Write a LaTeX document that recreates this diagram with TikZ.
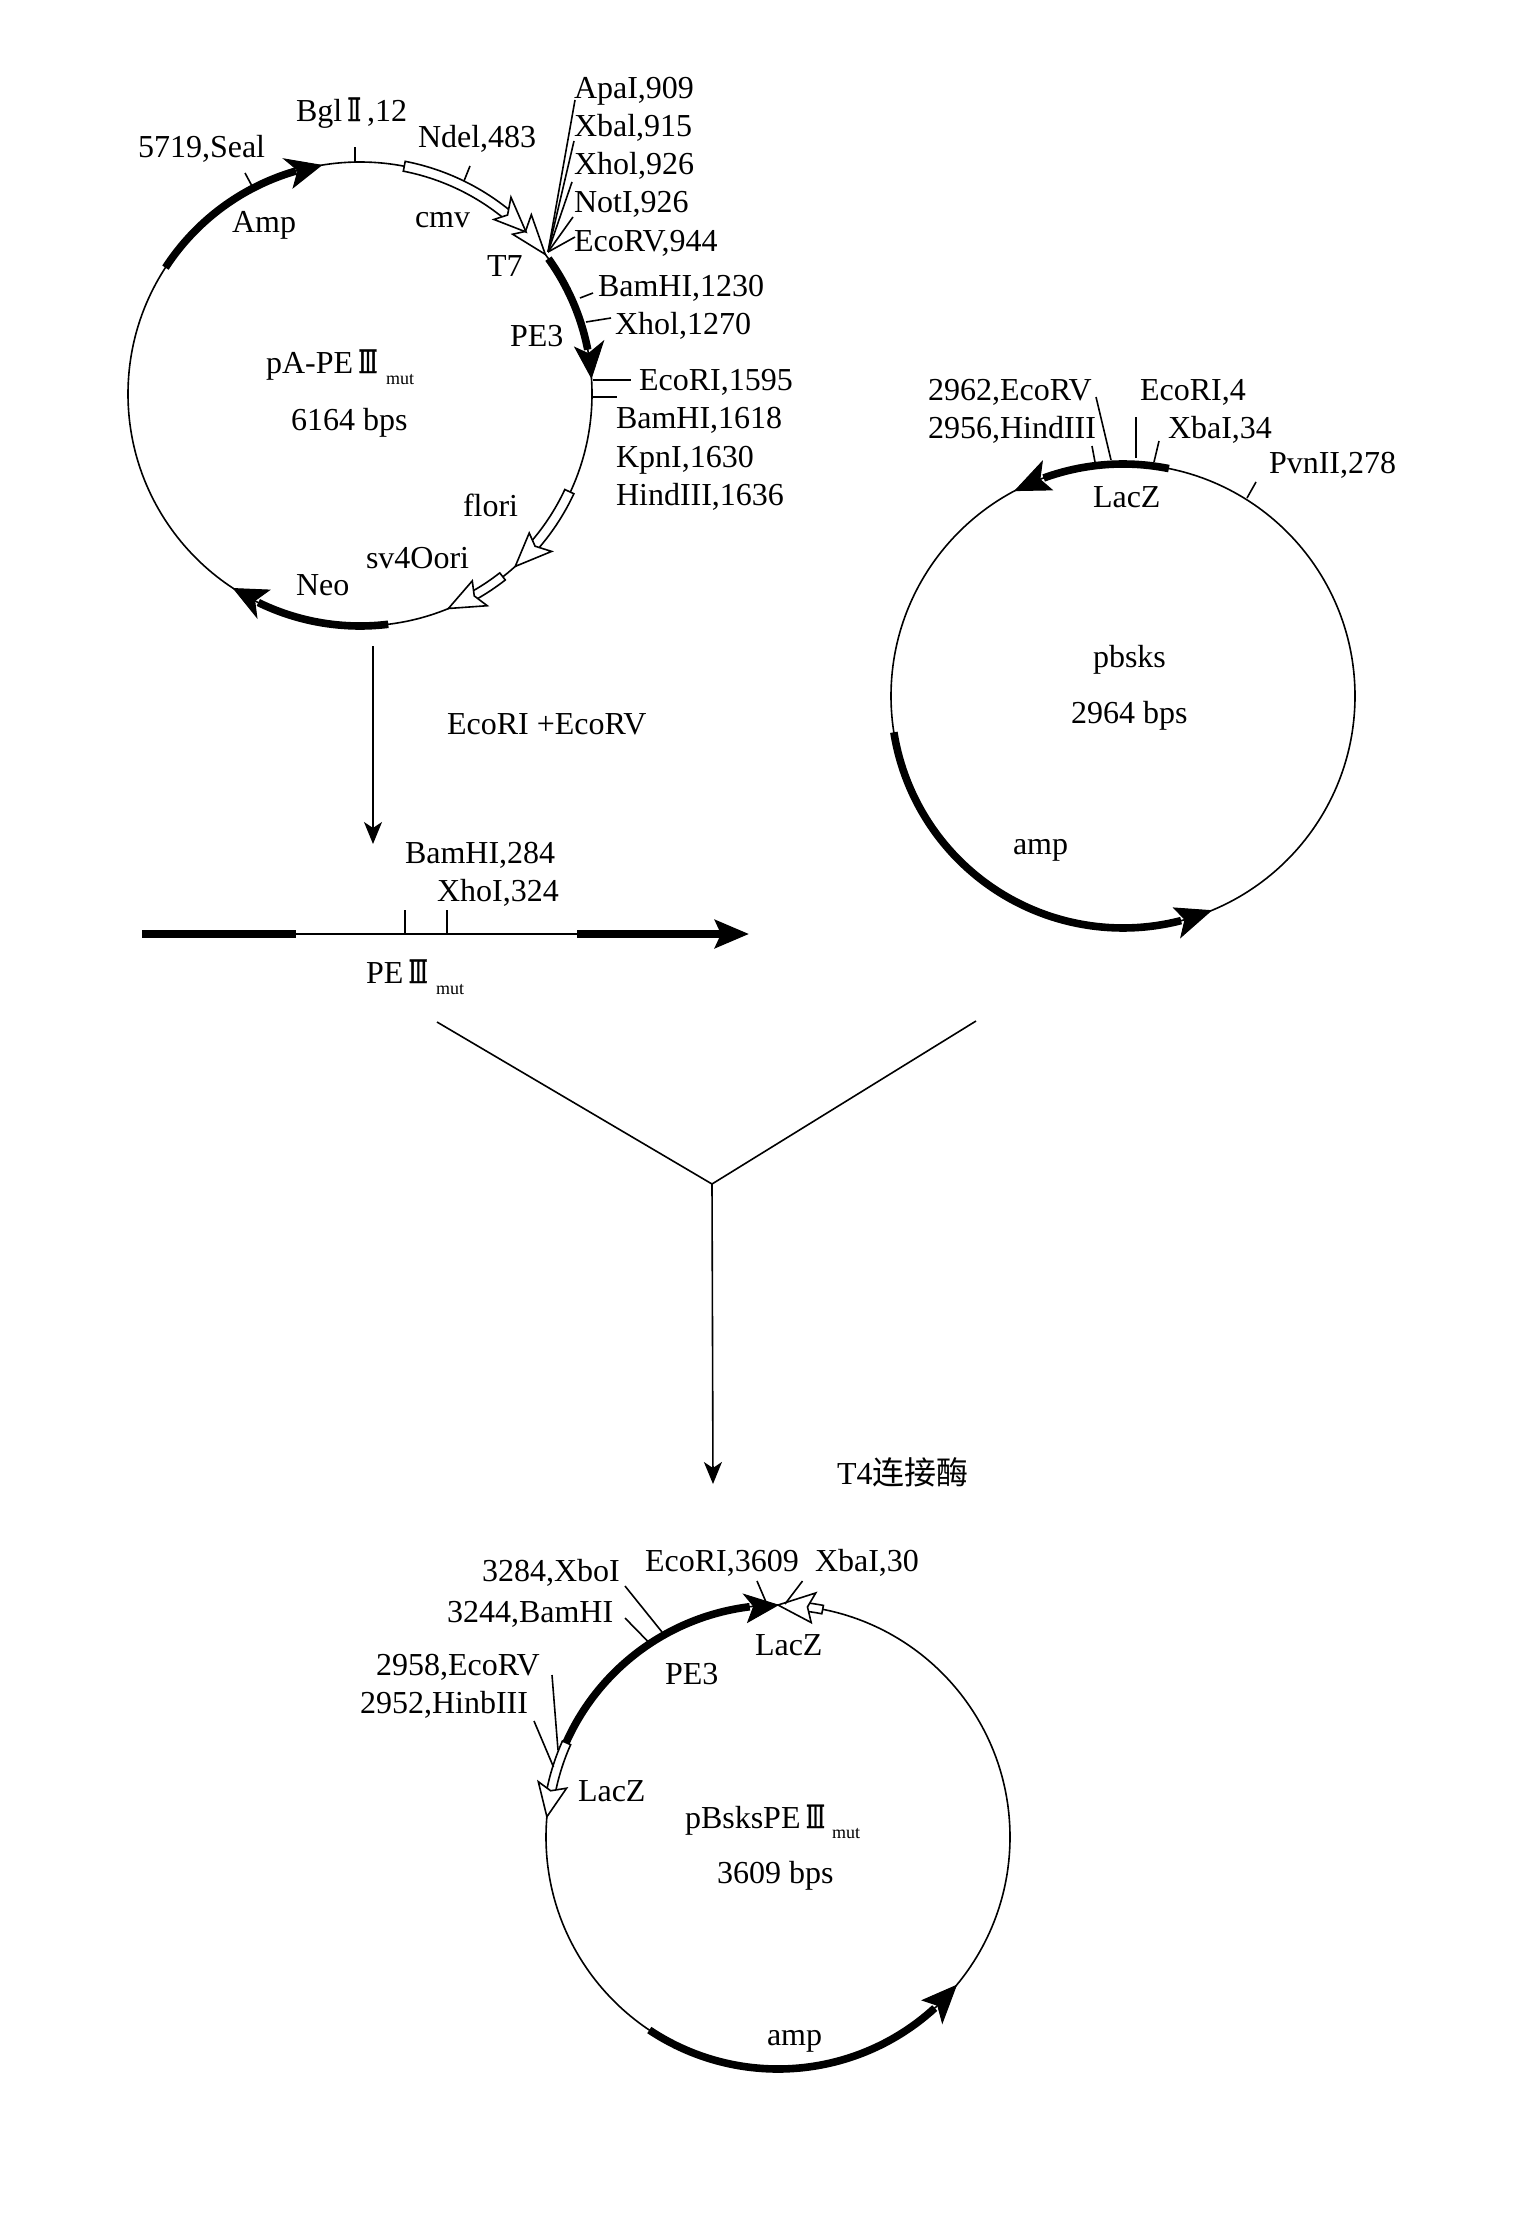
\documentclass[tikz,border=0pt]{standalone}
\usepackage{fontspec}
\setmainfont{Liberation Serif}
\newfontfamily\cjk{Noto Sans CJK SC}
\newfontfamily\rom[FakeStretch=0.62,FakeBold=1.2]{DejaVu Serif}
\usetikzlibrary{arrows.meta}
\def\PP#1#2{({\cx+(#2)*cos(#1)},{\cy-(#2)*sin(#1)})}
\newcommand\ThickArc[2]{\draw[thickline] plot[domain=#1:#2,samples=60] ({\cx+232*cos(\x)},{\cy-232*sin(\x)});}
\newcommand\Head[6][solidhead]{\draw[#1] \PP{#2}{232} -- \PP{#3}{#5} -- \PP{#4}{232} -- \PP{#3}{#6} -- cycle;}
\newcommand\Band[4]{\draw[openhead] plot[domain=#1:#2,samples=30] ({\cx+#3*cos(\x)},{\cy-#3*sin(\x)}) -- plot[domain=#2:#1,samples=30] ({\cx+#4*cos(\x)},{\cy-#4*sin(\x)}) -- cycle;}
\newcommand\Lab[4]{\node[lab] (#1) at (#2,#3) {#4};}
\newcommand\Mut[3]{\node[sublab] (#1) at (#2,#3) {mut};}
\newcommand\Tick[4]{\draw[thinline] (#1,#2) -- (#3,#4);}
\newcommand\TT{\,{\rom Ⅲ}}
\tikzset{
  lab/.style={anchor=base west,inner sep=0pt,outer sep=0pt,font=\fontsize{16}{18}\selectfont},
  sublab/.style={anchor=base west,inner sep=0pt,outer sep=0pt,font=\fontsize{9}{10}\selectfont},
  thinline/.style={draw=black,line width=0.8pt},
  thickline/.style={draw=black,line width=3.8pt},
  solidhead/.style={draw=black,fill=black,line width=0.5pt,line join=miter},
  openhead/.style={draw=black,fill=white,line width=0.8pt,line join=miter},
  flowarrow/.style={thinline,-{Stealth[length=11pt,width=9pt,inset=3pt]}},
}
\begin{document}
\begin{tikzpicture}[x=0.5pt,y=-0.5pt]
\useasboundingbox (0,0) rectangle (1536,2232);
\fill[white] (0,0) rectangle (1536,2232);
% ---------- pA-PE III mut ----------
\def\cx{360}\def\cy{394}
\coordinate (c1) at (\cx,\cy);
\draw[thinline] (c1) circle[radius=232];
\ThickArc{147}{106}\Head{99.6}{107.9}{105.5}{217}{247}
\ThickArc{35.7}{11}\Head{4}{12.2}{10}{220}{249}
\ThickArc{-83}{-116}\Head{-123}{-114.8}{-117}{216}{246}
% ticks
\Tick{252}{186}{245}{173}
\Tick{355}{162}{355}{147}
\Tick{464}{181}{470}{166}
\Tick{580}{298}{593}{293}
\Tick{586}{322}{611}{318}
\Tick{593}{380}{631}{380}
\Tick{593}{397}{617}{397}
% open arrows
\Head[openhead]{37}{46.3}{44.5}{221}{248}
\Band{79}{50}{227}{237}
\Head[openhead]{44.3}{52.5}{50.5}{220}{248}
\Band{-25}{-41.5}{226}{236}
\Head[openhead]{-48}{-39.4}{-41}{219}{248}
\Band{-52}{-61}{227}{236}
\Head[openhead]{-67.6}{-59}{-60.5}{218}{247}
% fan
\coordinate (fan) at (548,252);
\draw[thinline] (fan) -- (575,100);
\draw[thinline] (fan) -- (574,141);
\draw[thinline] (fan) -- (572,182);
\draw[thinline] (fan) -- (573,217);
\draw[thinline] (fan) -- (575,237);
% labels
\Lab{l1}{574}{98}{ApaI,909}
\Lab{l2}{574}{136}{Xbal,915}
\Lab{l3}{574}{174}{Xhol,926}
\Lab{l4}{574}{213}{NotI,926}
\Lab{l5}{574}{251}{EcoRV,944}
\Lab{l6}{598}{296}{BamHI,1230}
\Lab{l7}{615}{334}{Xhol,1270}
\Lab{l8}{510}{346}{PE3}
\Lab{l9}{487}{276}{T7}
\Lab{l10}{415}{227}{cmv}
\Lab{l11}{232}{232}{Amp}
\Lab{l12}{138}{157}{5719,Seal}
\Lab{l13}{296}{121}{Bgl\,{\rom Ⅱ}\hspace{3pt},12}
\Lab{l14}{418}{148}{Ndel,483}
\Lab{l15}{266}{373}{pA-PE\TT}
\Mut{m15}{386}{384}
\Lab{l16}{291}{430}{6164 bps}
\Lab{l17}{639}{390}{EcoRI,1595}
\Lab{l18}{616}{428}{BamHI,1618}
\Lab{l19}{616}{467}{KpnI,1630}
\Lab{l20}{616}{505}{HindIII,1636}
\Lab{l21}{463}{516}{flori}
\Lab{l22}{366}{568}{sv4Oori}
\Lab{l23}{296}{595}{Neo}
% ---------- flow ----------
\coordinate (d1) at (373,646);
\coordinate (d2) at (373,844);
\draw[flowarrow] (d1) -- (d2);
\Lab{l24}{447}{734}{EcoRI +EcoRV}
% linear fragment
\coordinate (f1) at (142,934);
\coordinate (f2) at (296,934);
\coordinate (f3) at (577,934);
\coordinate (f4) at (749,934);
\draw[thickline] (f1) -- (f2);
\draw[thinline] (f2) -- (f3);
\draw[thickline,-{Stealth[length=17pt,width=14pt,inset=3pt]}] (f3) -- (f4);
\Tick{405}{934}{405}{910}
\Tick{447}{934}{447}{910}
\Lab{l25}{405}{863}{BamHI,284}
\Lab{l26}{437}{901}{XhoI,324}
\Lab{l27}{366}{983}{PE\TT}
\Mut{m27}{436}{994}
% ---------- pbsks ----------
\def\cx{1123}\def\cy{696}
\coordinate (c2) at (\cx,\cy);
\draw[thinline] (c2) circle[radius=232];
\ThickArc{78.6}{110}\Head{117.7}{109}{111}{218}{248}
\ThickArc{189}{284.5}\Head{292.3}{283.5}{285.5}{218}{248}
\Tick{1095}{462}{1092}{446}
\Tick{1111}{460}{1096}{397}
\Tick{1136}{458}{1136}{417}
\Tick{1154}{462}{1159}{441}
\Tick{1247}{498}{1256}{482}
\Lab{l28}{928}{400}{2962,EcoRV}
\Lab{l29}{928}{438}{2956,HindIII}
\Lab{l30}{1140}{400}{EcoRI,4}
\Lab{l31}{1168}{438}{XbaI,34}
\Lab{l32}{1269}{473}{PvnII,278}
\Lab{l33}{1093}{507}{LacZ}
\Lab{l34}{1093}{667}{pbsks}
\Lab{l35}{1071}{723}{2964 bps}
\Lab{l36}{1013}{854}{amp}
% ---------- Y join ----------
\coordinate (y1) at (437,1022);
\coordinate (y2) at (976,1021);
\coordinate (y3) at (712,1184);
\coordinate (y4) at (713,1484);
\draw[thinline] (y1) -- (y3);
\draw[thinline] (y2) -- (y3);
\draw[flowarrow] (y3) -- (y4);
\Lab{l37}{837}{1484}{T4{\cjk 连接酶}}
% ---------- pBsksPE III mut ----------
\def\cx{778}\def\cy{1837}
\coordinate (c3) at (\cx,\cy);
\draw[thinline] (c3) circle[radius=232];
\ThickArc{156.2}{97}\Head{90}{98}{96}{217}{245}
\ThickArc{236.3}{312.5}\Head{320.2}{311.5}{313.5}{218}{248}
\Band{156}{169}{227}{236}
\Head[openhead]{175}{167}{168.5}{217}{246}
\Band{78.9}{83}{227.5}{236}
\Head[openhead]{90}{81.2}{82.7}{217}{247}
\Tick{662}{1632}{625}{1586}
\Tick{647.5}{1641}{625}{1618}
\Tick{558}{1750}{552}{1675}
\Tick{553.5}{1767}{534}{1721}
\Tick{766}{1602}{757}{1581}
\Tick{785}{1604}{802.5}{1581}
\Lab{l38}{482}{1581}{3284,XboI}
\Lab{l39}{447}{1622}{3244,BamHI}
\Lab{l40}{376}{1675}{2958,EcoRV}
\Lab{l41}{360}{1713}{2952,HinbIII}
\Lab{l42}{645}{1571}{EcoRI,3609}
\Lab{l43}{815}{1571}{XbaI,30}
\Lab{l44}{755}{1655}{LacZ}
\Lab{l45}{665}{1684}{PE3}
\Lab{l46}{578}{1801}{LacZ}
\Lab{l47}{685}{1828}{pBsksPE\TT}
\Mut{m47}{832}{1838}
\Lab{l48}{717}{1883}{3609 bps}
\Lab{l49}{767}{2045}{amp}
\end{tikzpicture}
\end{document}
